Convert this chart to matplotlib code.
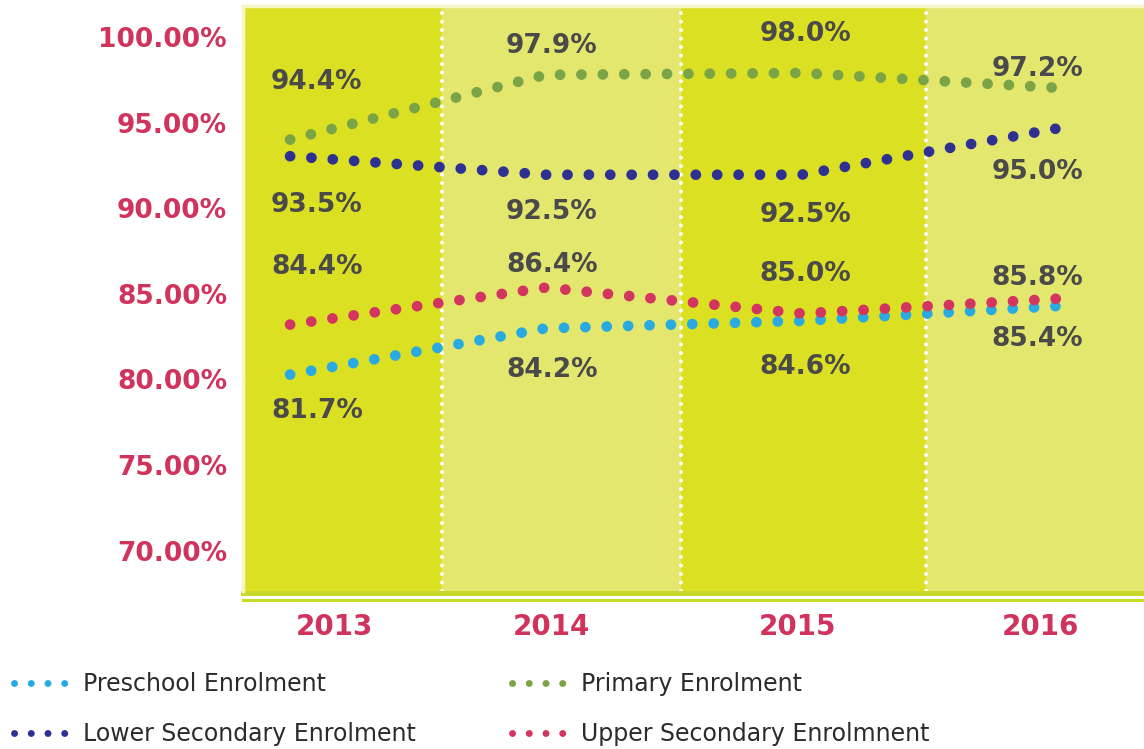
import numpy as np
import matplotlib
matplotlib.use('Agg')
import matplotlib.pyplot as plt
from matplotlib.lines import Line2D

years = ['2013', '2014', '2015', '2016']
preschool = [81.7, 84.2, 84.6, 85.4]
primary = [94.4, 97.9, 98.0, 97.2]
lower_sec = [93.5, 92.5, 92.5, 95.0]
upper_sec = [84.4, 86.4, 85.0, 85.8]
y_ticks = [70, 75, 80, 85, 90, 95, 100]
names = ['Preschool Enrolment', 'Lower Secondary Enrolment',
         'Primary Enrolment', 'Upper Secondary Enrolmnent']

# colours
c_pre = '#29abe2'
c_pri = '#7ba446'
c_low = '#2e3192'
c_up = '#d2355f'
crimson = '#d0335b'
band_dark = '#dbe022'
band_light = '#e3e76e'
txt = '#4a4a4a'

# label offsets in pixels (dx per year, dy per point)
lab_dx = [-19, 6, 4, -20]
lab_dy = {'pri': [51, 22, 32, 12], 'low': [-56, -44, -47, -51],
          'up': [51, 16, 32, 14], 'pre': [-43, -49, -53, -40]}

W, H = 1144, 749
fig = plt.figure(figsize=(W / 100, H / 100), dpi=100)
ax = fig.add_axes([243 / W, 1 - 591 / H, (W - 243) / W, (591 - 6) / H])
ax.set_xlim(-0.184, 3.34)
ax.set_ylim(70, 101.62)

# background bands
edges = [-0.184, 0.594, 1.529, 2.487, 3.34]
for i in range(4):
    ax.axvspan(edges[i], edges[i + 1], color=band_dark if i % 2 == 0 else band_light, lw=0, zorder=0)
for e in edges[1:4]:
    ax.axvline(e, color='white', lw=2.9, linestyle=(0, (0.01, 2.1)),
               dash_capstyle='round', zorder=1)

x = np.arange(len(years))
series = [('pre', preschool, c_pre), ('low', lower_sec, c_low),
          ('pri', primary, c_pri), ('up', upper_sec, c_up)]
for key, vals, c in series:
    ax.plot(x, vals, color=c, lw=7.7, linestyle=(0, (0.01, 1.99)),
            dash_capstyle='round', zorder=3)
    for i, v in enumerate(vals):
        ax.annotate(f'{v:.1f}%', (i, v), xytext=(lab_dx[i], lab_dy[key][i]),
                    textcoords='offset pixels', ha='left' if i == 0 else 'center',
                    va='baseline', fontsize=19, fontweight='bold', color=txt, zorder=4)

# bottom double line
ax.axhline(69.865, color='#c9d82a', lw=3.6, clip_on=False)
ax.axhline(69.54, color='#c8dc2c', lw=2.2, clip_on=False)

for s in ['right', 'bottom']:
    ax.spines[s].set_visible(False)
for s in ['left', 'top']:
    ax.spines[s].set_color('#f8f4c4')
    ax.spines[s].set_linewidth(2.5)

ax.set_yticks([])
ax.set_xticks([0.172, 1.021, 1.983, 2.933], years)
ax.tick_params(axis='x', length=0, pad=15.5, labelsize=20, labelcolor=crimson)
for t in ax.get_xticklabels():
    t.set_fontweight('bold')

# y tick labels
lab = ax.twinx()
lab.set_ylim(67.64, 101.81)
lab.yaxis.tick_left()
lab.set_yticks(y_ticks, [f'{t:.2f}%' for t in y_ticks])
lab.tick_params(axis='y', length=0, pad=11.5, labelsize=19, labelcolor=crimson)
for t in lab.get_yticklabels():
    t.set_fontweight('bold')
for s in lab.spines.values():
    s.set_visible(False)

handles = [Line2D([], [], color=c, lw=5, linestyle=(0, (0.01, 2.4)), dash_capstyle='round')
           for c in [c_pre, c_low, c_pri, c_up]]
fig.legend(handles, names, ncol=2, loc='upper left', bbox_to_anchor=(14 / W, 1 - 672 / H),
           frameon=False, fontsize=17, handlelength=2.16, handletextpad=0.75,
           columnspacing=4.1, labelspacing=1.12, borderpad=0, borderaxespad=0,
           labelcolor='#2b2b2b')

fig.savefig('out.png', dpi=100)
